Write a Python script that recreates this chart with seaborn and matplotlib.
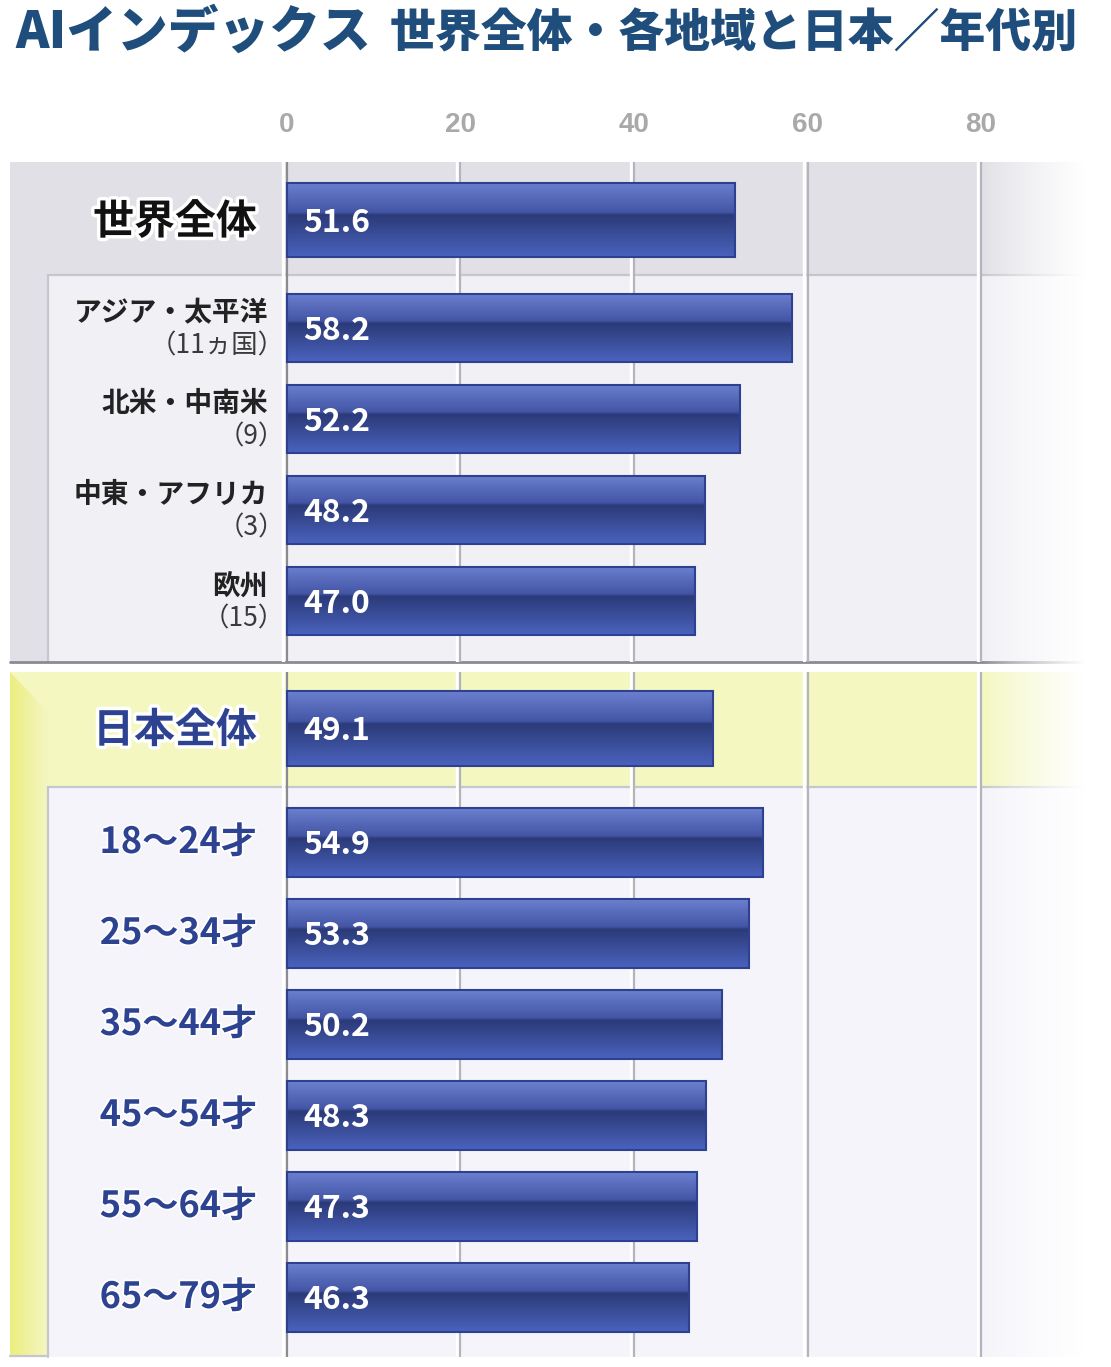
import numpy as np
import matplotlib
matplotlib.use("Agg")
import matplotlib.pyplot as plt
import matplotlib.patheffects as pe
from matplotlib.patches import Rectangle, Polygon
from matplotlib.transforms import ScaledTranslation
from matplotlib.colors import to_rgb
import seaborn as sns
import pandas as pd

# ---------------- data ----------------
world_label = ["世界全体"]
world_value = [51.6]
region_names = ["アジア・太平洋", "北米・中南米", "中東・アフリカ", "欧州"]
region_counts = ["（11ヵ国）", "（9）", "（3）", "（15）"]
region_values = [58.2, 52.2, 48.2, 47.0]
japan_label = ["日本全体"]
japan_value = [49.1]
age_labels = ["18～24才", "25～34才", "35～44才", "45～54才", "55～64才", "65～79才"]
age_values = [54.9, 53.3, 50.2, 48.3, 47.3, 46.3]
x_ticks = [0, 20, 40, 60, 80]
title_main = "AIインデックス"
title_sub = "世界全体・各地域と日本／年代別"

# ---------------- style ----------------
sns.set_theme(style="white")
plt.rcParams["font.family"] = ["Noto Sans CJK JP", "DejaVu Sans"]

W, H = 1111, 1367
fig = plt.figure(figsize=(W / 100, H / 100), dpi=100)

X0_PX, PX_PER_UNIT = 287, 8.675
AX_LEFT, AX_RIGHT = 10, 1085
XLIM = ((AX_LEFT - X0_PX) / PX_PER_UNIT, (AX_RIGHT - X0_PX) / PX_PER_UNIT)


def dx(px):
    return (px - X0_PX) / PX_PER_UNIT


GRAY_BG = "#e1e0e6"
GRAY_IN = "#f1f0f5"
YEL_BG = "#f4f7c0"
YEL_IN = "#f5f4fa"
BORDER = "#c6c6ce"
GRID = "#b4b4bc"
ZERO = "#8c8c90"
NAVY = "#2d4391"
TITLE_C = "#1f4e7c"

# ---------------- background (pixel space) ----------------
bg = fig.add_axes([0, 0, 1, 1])
bg.set_xlim(0, W)
bg.set_ylim(H, 0)
bg.axis("off")

bg.add_patch(Rectangle((AX_LEFT, 162), AX_RIGHT - AX_LEFT, 500, fc=GRAY_BG, ec="none", zorder=1))
bg.add_patch(Rectangle((48, 275), AX_RIGHT - 48, 387, fc=GRAY_IN, ec="none", zorder=1))
bg.plot([48, 48], [275, 662], color=BORDER, lw=1.6, zorder=2)
bg.plot([48, AX_RIGHT], [275, 275], color=BORDER, lw=1.6, zorder=2)

bg.add_patch(Rectangle((AX_LEFT, 672), AX_RIGHT - AX_LEFT, 685, fc=YEL_BG, ec="none", zorder=1))
ystrip = np.zeros((1, 40, 3))
c1, c2 = np.array(to_rgb("#ecee80")), np.array(to_rgb("#f4f6c2"))
for i in range(40):
    ystrip[0, i] = c1 + (c2 - c1) * i / 39
bg.imshow(ystrip, extent=(AX_LEFT, 48, 1357, 672), aspect="auto",
          interpolation="bilinear", zorder=1.5)
bg.add_patch(Polygon([(AX_LEFT, 672), (48, 672), (48, 712)], closed=True,
                     fc=YEL_BG, ec="none", zorder=1.6))
bg.add_patch(Rectangle((48, 787), AX_RIGHT - 48, 570, fc=YEL_IN, ec="none", zorder=1.7))
bg.plot([48, 48], [787, 1357], color=BORDER, lw=1.6, zorder=2)
bg.plot([48, AX_RIGHT], [787, 787], color=BORDER, lw=1.6, zorder=2)
bg.plot([AX_LEFT, 48], [1356, 1356], color=BORDER, lw=1.6, zorder=2)

bg.plot([AX_LEFT, AX_RIGHT], [662, 662], color="#8a8a94", lw=2, zorder=2)

fade = np.ones((1, 100, 4))
fade[0, :, 3] = np.linspace(0, 1, 100) ** 0.8
bg.imshow(fade, extent=(983, AX_RIGHT, 1360, 160), aspect="auto",
          interpolation="bilinear", zorder=3)
bg.add_patch(Rectangle((AX_RIGHT, 150), W - AX_RIGHT, 1217, fc="white", ec="none", zorder=3))
bg.set_xlim(0, W)
bg.set_ylim(H, 0)

# ---------------- bar gradient ----------------
stops = [(0.0, "#6b80cf"), (0.40, "#4455a6"), (0.44, "#2b3a78"), (1.0, "#4a63be")]
n = 120
grad = np.zeros((n, 1, 3))
for k in range(n):
    t = k / (n - 1)
    for (a, ca), (b, cb) in zip(stops[:-1], stops[1:]):
        if a <= t <= b:
            f = (t - a) / (b - a) if b > a else 0
            grad[k, 0] = np.array(to_rgb(ca)) * (1 - f) + np.array(to_rgb(cb)) * f
            break


def section(y0, y1, cats, vals, ylim, width):
    ax = fig.add_axes([AX_LEFT / W, 1 - y1 / H, (AX_RIGHT - AX_LEFT) / W, (y1 - y0) / H])
    df = pd.DataFrame({"cat": cats, "val": vals})
    sns.barplot(data=df, x="val", y="cat", orient="h", ax=ax, width=width,
                color="#3a50a8", edgecolor="#2e4090", linewidth=1.5, saturation=1)
    for p in list(ax.patches):
        p.set_zorder(3)
        p.set_facecolor("none")
        xa, w = p.get_x(), p.get_width()
        ya, h = p.get_y(), p.get_height()
        im = ax.imshow(grad, extent=(xa, xa + w, ya + h, ya), aspect="auto",
                       interpolation="bilinear", zorder=2.5)
        im.set_clip_path(p)
    for i, v in enumerate(vals):
        ax.text(dx(303), i + 0.03, f"{v:.1f}", color="white", fontsize=23,
                weight="bold", ha="left", va="center", zorder=4)
    # gridlines: grey line with a white companion on its left
    white_off = ScaledTranslation(-3.5 / 100, 0, fig.dpi_scale_trans)
    for t in x_ticks:
        ax.plot([t, t], [0, 1], color="white", lw=2.4, zorder=1,
                transform=ax.get_xaxis_transform() + white_off)
        ax.axvline(t, color=ZERO if t == 0 else GRID, lw=1.6, zorder=1.2)
    ax.set_xlim(*XLIM)
    ax.set_ylim(*ylim)
    ax.set_facecolor("none")
    for s in ax.spines.values():
        s.set_visible(False)
    ax.set_yticks([])
    ax.set_xlabel("")
    ax.set_ylabel("")
    ax.set_xticks([])
    return ax


ax_w = section(162, 275, world_label, world_value, (0.557, -0.588), 0.75)
ax_r = section(275, 662, region_names, region_values, (3.670, -0.582), 0.75)
ax_j = section(672, 787, japan_label, japan_value, (0.585, -0.565), 0.75)
ax_a = section(787, 1357, age_labels, age_values, (5.654, -0.610), 0.75)

# tick labels on top
ax_w.xaxis.set_ticks_position("top")
ax_w.set_xticks(x_ticks)
ax_w.set_xticklabels([str(t) for t in x_ticks])
ax_w.tick_params(axis="x", length=0, pad=17, labelsize=20, labelcolor="#a9a9a9",
                 labelfontfamily="Liberation Sans")
for lbl in ax_w.get_xticklabels():
    lbl.set_fontweight("bold")

# category labels
glow = [pe.withStroke(linewidth=5, foreground="white")]
ax_w.text(dx(257), 0.02, world_label[0], fontsize=29.5, weight="bold", color="#111111",
          ha="right", va="center", path_effects=glow)
ax_j.text(dx(257), 0.02, japan_label[0], fontsize=29.5, weight="bold", color=NAVY,
          ha="right", va="center", path_effects=glow)
for i, (nm, ct) in enumerate(zip(region_names, region_counts)):
    ax_r.text(dx(268), i - 0.16, nm, fontsize=20, weight="bold", color="#222222",
              ha="right", va="center")
    ax_r.text(dx(285), i + 0.2, ct, fontsize=19, color="#3a3a3a",
              ha="right", va="center")
soft = [pe.withStroke(linewidth=2.5, foreground="white")]
for i, lab in enumerate(age_labels):
    ax_a.text(dx(257), i, lab, fontsize=26, weight="bold", color=NAVY,
              ha="right", va="center", path_effects=soft)

# title
fig.text(15 / W, 1 - 32 / H, title_main, fontsize=36.5, weight="black", color=TITLE_C,
         ha="left", va="center")
fig.text(1078 / W, 1 - 34 / H, title_sub, fontsize=33, weight="black", color=TITLE_C,
         ha="right", va="center")

fig.savefig("out.png", dpi=100, facecolor="white")
